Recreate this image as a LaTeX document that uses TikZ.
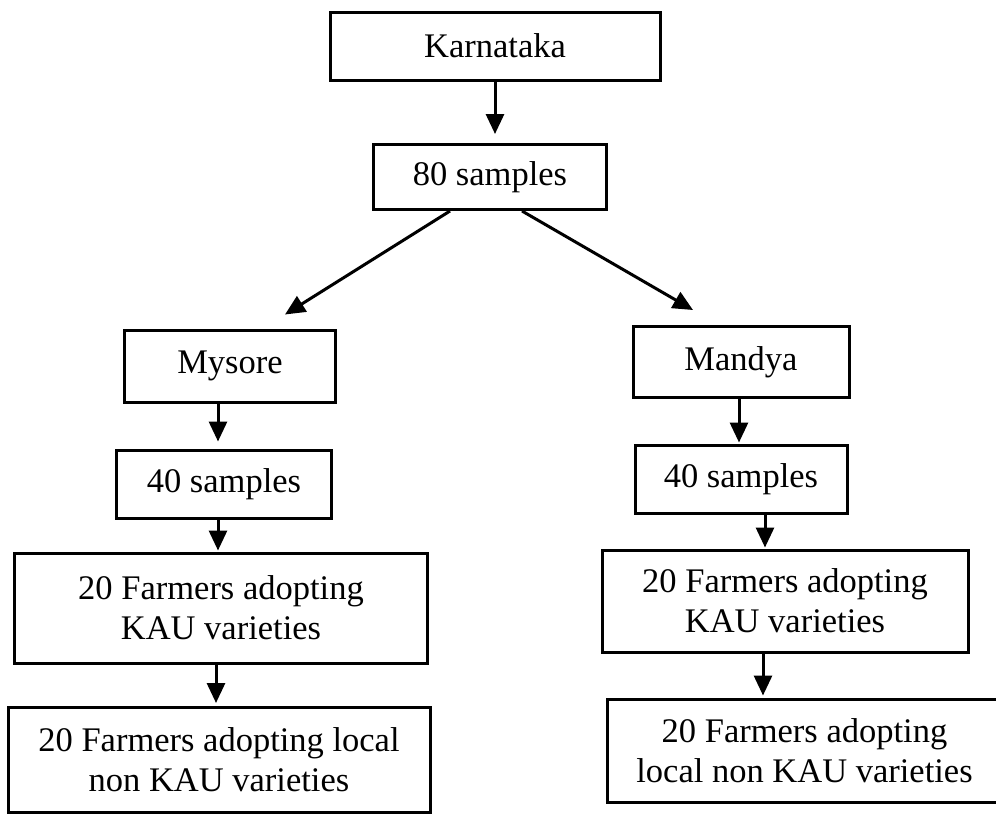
\documentclass[tikz,border=0pt]{standalone}
\usepackage{fontspec}
\setmainfont{Liberation Serif}
\usetikzlibrary{arrows.meta,calc}
\begin{document}
\begin{tikzpicture}[x=1pt,y=-1pt,
  box/.style={draw,line width=3pt,inner sep=0pt,align=center,
    font=\fontsize{34.5}{40}\selectfont},
  arr/.style={line width=3pt,-{Triangle[length=20pt,width=18pt]}}]
\clip (0,0) rectangle (996,814);
\fill[white] (0,0) rectangle (996,814);
\node[box,minimum width=330pt,minimum height=68pt] (k) at (495,46) {Karnataka};
\node[box,minimum width=233pt,minimum height=65pt] (s80) at (490,177) {80 samples};
\node[box,minimum width=211pt,minimum height=72pt] (my) at (230,366) {Mysore};
\node[box,minimum width=216pt,minimum height=71pt] (md) at (741,362) {Mandya};
\node[box,minimum width=215pt,minimum height=68pt] (s40l) at (224,484) {40 samples};
\node[box,minimum width=212pt,minimum height=68pt] (s40r) at (741,479) {40 samples};
\node[box,minimum width=413pt,minimum height=110pt] (fl) at (221,608) {20 Farmers adopting\\KAU varieties};
\node[box,minimum width=366pt,minimum height=102pt] (fr) at (785,601) {20 Farmers adopting\\KAU varieties};
\node[box,minimum width=422pt,minimum height=105pt] (bl) at (219,760) {20 Farmers adopting local\\non KAU varieties};
\node[box,minimum width=395pt,minimum height=103pt] (br) at (804.5,750.5) {20 Farmers adopting\\local non KAU varieties};

\draw[arr,shorten >=9pt] (k.south) -- (k.south |- s80.north);
\draw[arr] ($(s80.south)+(-40,0)$) -- ($(my.north)+(55,-14)$);
\draw[arr] ($(s80.south)+(32,0)$) -- ($(md.north)+(-48,-15)$);
\draw[arr,shorten >=7pt] ($(my.south)+(-12,0)$) coordinate (a1) -- (a1 |- s40l.north);
\draw[arr,shorten >=1pt] ($(s40l.south)+(-6,0)$) coordinate (a2) -- (a2 |- fl.north);
\draw[arr,shorten >=3pt] ($(fl.south)+(-5,0)$) coordinate (a3) -- (a3 |- bl.north);
\draw[arr,shorten >=1pt] ($(md.south)+(-2,0)$) coordinate (a4) -- (a4 |- s40r.north);
\draw[arr,shorten >=1pt] ($(s40r.south)+(24,0)$) coordinate (a5) -- (a5 |- fr.north);
\draw[arr,shorten >=2pt] ($(fr.south)+(-22,0)$) coordinate (a6) -- (a6 |- br.north);
\end{tikzpicture}
\end{document}
